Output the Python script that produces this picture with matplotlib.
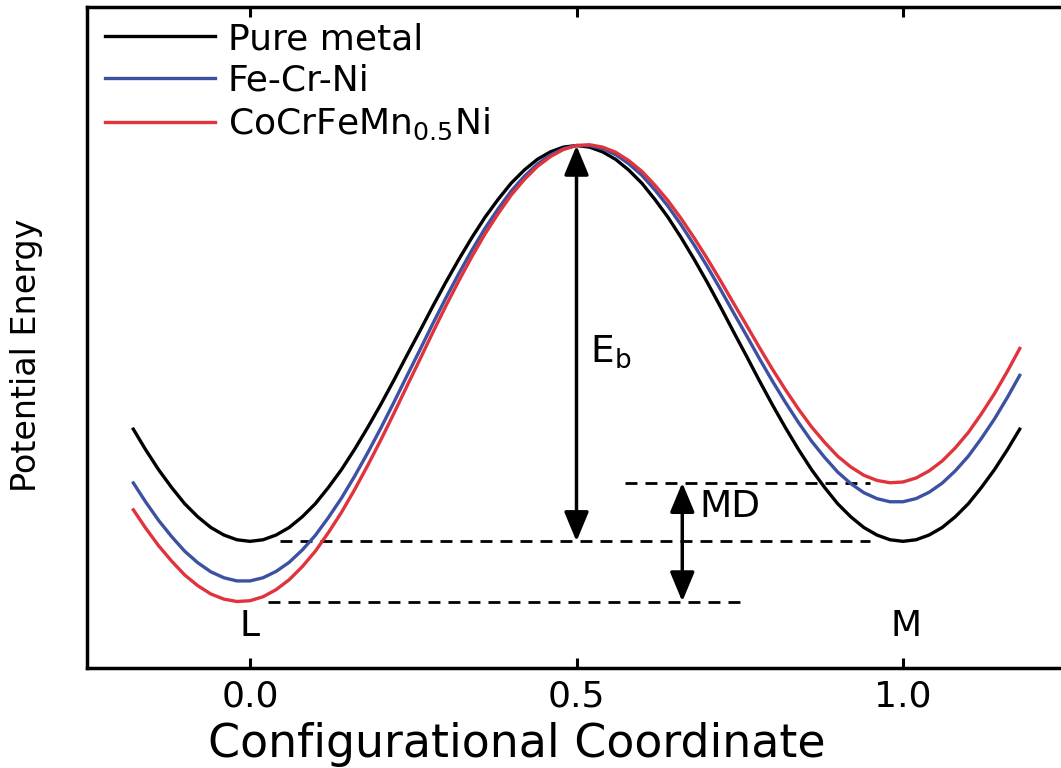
import numpy as np
import matplotlib
matplotlib.use("Agg")
import matplotlib.pyplot as plt
from matplotlib.lines import Line2D

plt.rcParams["font.family"] = ["DejaVu Sans"]
plt.rcParams["mathtext.default"] = "regular"

# Reaction coordinate samples (L site at 0, M site at 1)
coord = np.linspace(-0.18, 1.18, 69)

# Potential energy along the path, normalised to the saddle point
pure_metal = [
    0.287, 0.232, 0.181, 0.136, 0.095, 0.062, 0.035, 0.016, 0.004, 0.000,
    0.004, 0.016, 0.035, 0.062, 0.095, 0.136, 0.181, 0.232, 0.287, 0.345,
    0.406, 0.469, 0.531, 0.594, 0.655, 0.713, 0.768, 0.819, 0.864, 0.905,
    0.938, 0.965, 0.984, 0.996, 1.000, 0.996, 0.984, 0.965, 0.938, 0.905,
    0.864, 0.819, 0.768, 0.713, 0.655, 0.594, 0.531, 0.469, 0.406, 0.345,
    0.287, 0.232, 0.181, 0.136, 0.095, 0.062, 0.035, 0.016, 0.004, 0.000,
    0.004, 0.016, 0.035, 0.062, 0.095, 0.136, 0.181, 0.232, 0.287,
]
fe_cr_ni = [
    0.151, 0.100, 0.053, 0.012, -0.025, -0.054, -0.077, -0.092, -0.100, -0.100,
    -0.092, -0.076, -0.053, -0.022, 0.015, 0.060, 0.109, 0.164, 0.223, 0.285,
    0.350, 0.417, 0.483, 0.550, 0.615, 0.677, 0.736, 0.791, 0.840, 0.885,
    0.922, 0.953, 0.976, 0.992, 1.000, 1.000, 0.992, 0.977, 0.954, 0.925,
    0.888, 0.847, 0.800, 0.749, 0.695, 0.638, 0.579, 0.521, 0.462, 0.405,
    0.351, 0.300, 0.253, 0.212, 0.175, 0.146, 0.123, 0.108, 0.100, 0.100,
    0.108, 0.124, 0.147, 0.178, 0.215, 0.260, 0.309, 0.364, 0.423,
]
cocrfemn_ni = [
    0.083, 0.034, -0.011, -0.050, -0.085, -0.112, -0.133, -0.146, -0.152, -0.150,
    -0.140, -0.122, -0.097, -0.064, -0.025, 0.022, 0.073, 0.130, 0.191, 0.255,
    0.322, 0.391, 0.459, 0.528, 0.595, 0.659, 0.720, 0.777, 0.828, 0.875,
    0.914, 0.947, 0.972, 0.990, 1.000, 1.002, 0.996, 0.983, 0.962, 0.935,
    0.900, 0.861, 0.816, 0.767, 0.715, 0.660, 0.603, 0.547, 0.490, 0.435,
    0.383, 0.334, 0.289, 0.250, 0.215, 0.188, 0.167, 0.154, 0.148, 0.150,
    0.160, 0.178, 0.203, 0.236, 0.275, 0.322, 0.373, 0.430, 0.491,
]

series_labels = ["Pure metal", "Fe-Cr-Ni", r"CoCrFeMn$_{0.5}$Ni"]
series_colors = ["#000000", "#3d51a3", "#e0333c"]

# Energy levels used for the guides and arrows
saddle_energy = 1.0
pure_min = 0.0
alloy_L_min = -0.152
alloy_M_min = 0.148

tick_values = [0.0, 0.5, 1.0]
tick_labels = ["0.0", "0.5", "1.0"]

fig = plt.figure(figsize=(10.61, 7.68), dpi=100)
ax = fig.add_axes([86.75 / 1061, 100 / 768, 979.5 / 1061, 661 / 768])
ax.set_xlim(-0.25, 1.25)
ax.set_ylim(-0.32, 1.35)

# Dashed reference levels
dash = (0, (4.3, 2.9))
ax.hlines(alloy_M_min, 0.575, 0.95, colors="black", linestyles=dash, lw=2)
ax.hlines(pure_min, 0.046, 0.95, colors="black", linestyles=dash, lw=2)
ax.hlines(alloy_L_min, 0.028, 0.75, colors="black", linestyles=dash, lw=2)

# Energy curves
handles = []
for values, color in zip([pure_metal, fe_cr_ni, cocrfemn_ni], series_colors):
    ax.plot(coord, values, color=color, lw=2.4, solid_capstyle="butt",
            solid_joinstyle="round")
    handles.append(Line2D([], [], color=color, lw=2.4))

# Barrier and mixing-difference arrows
arrow_kw = dict(arrowstyle="<|-|>,head_length=0.6,head_width=0.25",
                mutation_scale=30, lw=2.5, color="black", shrinkA=0, shrinkB=0)
ax.annotate("", xy=(0.5, saddle_energy), xytext=(0.5, pure_min), arrowprops=arrow_kw)
ax.annotate("", xy=(0.662, alloy_M_min), xytext=(0.662, alloy_L_min), arrowprops=arrow_kw)

ax.text(0.52, 0.48, r"E$_b$", fontsize=27, ha="left", va="center")
ax.text(0.688, 0.088, "MD", fontsize=27, ha="left", va="center")
ax.text(0.0, -0.215, "L", fontsize=26, ha="center", va="center")
ax.text(1.005, -0.215, "M", fontsize=26, ha="center", va="center")

# Axes styling
for side in ["left", "bottom", "top", "right"]:
    ax.spines[side].set_linewidth(2.5)
ax.set_xticks(tick_values)
ax.set_xticklabels(tick_labels)
ax.set_yticks([])
ax.tick_params(axis="x", direction="in", length=7, width=2.2, top=True,
               labeltop=False, labelsize=26, pad=8)

ax.set_xlabel("Configurational Coordinate", fontsize=33)
ax.xaxis.set_label_coords(0.439, -0.082)
ax.xaxis.label.set_va("top")
ax.set_ylabel("Potential Energy", fontsize=24)
ax.yaxis.set_label_coords(-0.045, 0.4735)

ax.legend(handles, series_labels, loc="upper left",
          bbox_to_anchor=(105 / 1061, 1 - 22 / 768), bbox_transform=fig.transFigure,
          frameon=False, fontsize=26, handlelength=3.05, handletextpad=0.35,
          labelspacing=0.22, borderpad=0, borderaxespad=0)

fig.savefig("out.png", dpi=100)
